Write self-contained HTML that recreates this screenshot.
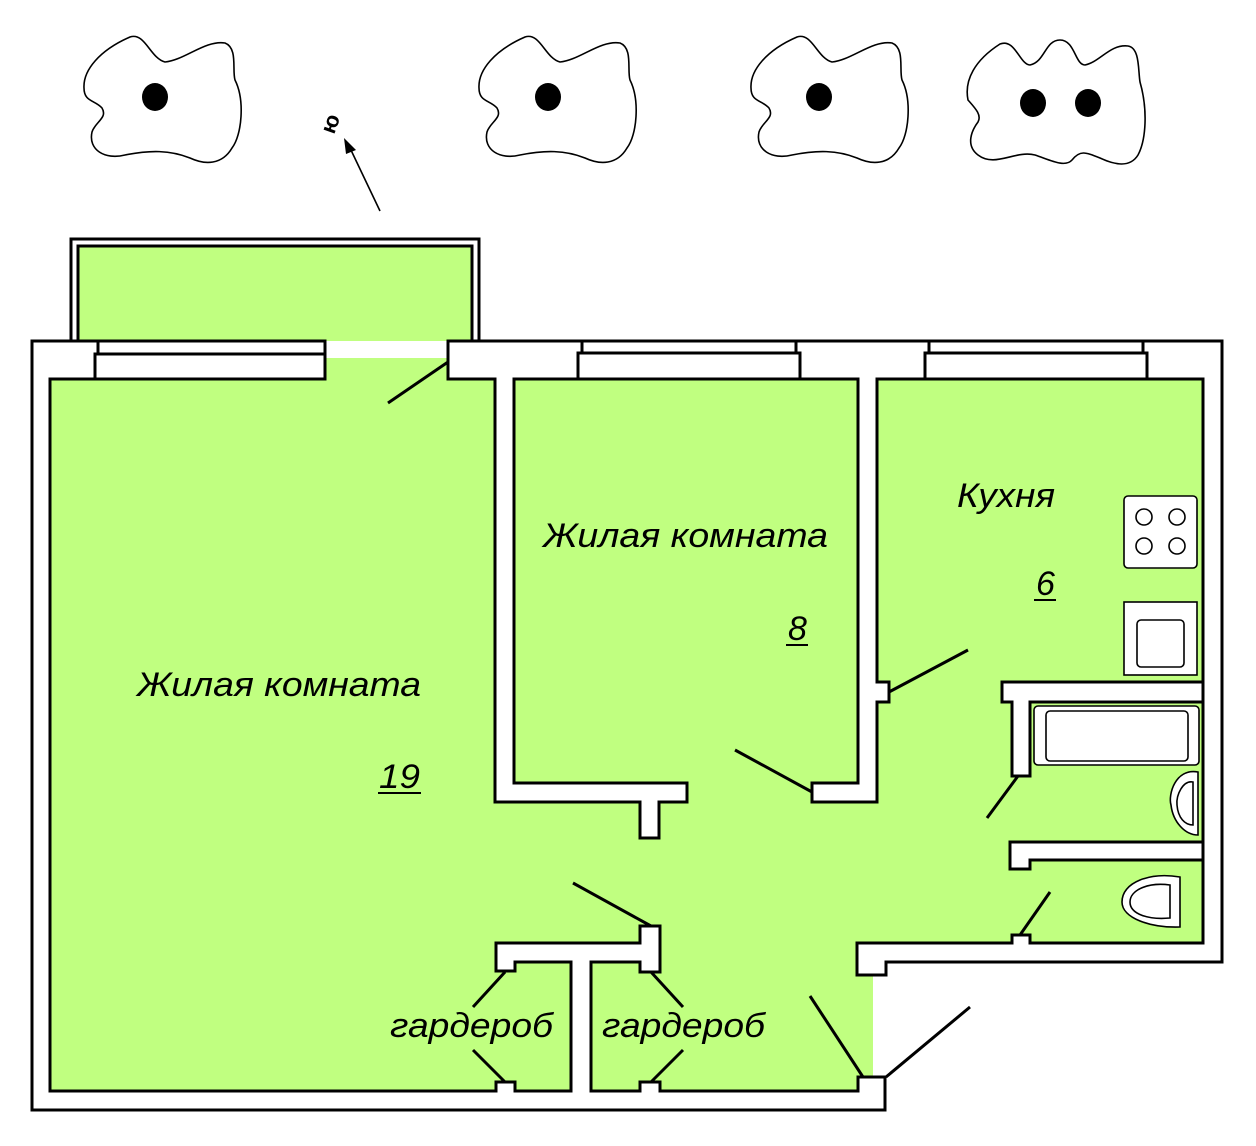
<!DOCTYPE html>
<html><head><meta charset="utf-8"><style>
html,body{margin:0;padding:0;background:#fff;}
svg{display:block;}
text{font-family:"Liberation Sans",sans-serif;font-style:italic;fill:#000;}
</style></head><body>
<svg width="1256" height="1146" viewBox="0 0 1256 1146" xmlns="http://www.w3.org/2000/svg">
<defs>
<path id="blob" d="M130,37 C145,32 150,58 165,62 C185,60 205,40 225,43 C238,48 232,70 235,80 C245,100 242,135 232,148 C222,165 205,165 190,158 C170,150 150,150 125,155 C105,160 88,150 92,132 C95,122 108,118 102,108 C95,100 84,102 84,88 C83,70 100,50 130,37 Z" fill="none" stroke="#000" stroke-width="1.6"/>
</defs>
<use href="#blob"/>
<use href="#blob" transform="translate(395,0)"/>
<use href="#blob" transform="translate(667,0)"/>
<path d="M1000,44 C1015,38 1020,65 1030,65 C1045,62 1045,40 1060,40 C1075,40 1075,65 1085,65 C1100,62 1110,44 1128,46 C1140,48 1138,70 1140,82 C1148,110 1146,140 1138,155 C1130,168 1115,165 1100,158 C1085,152 1080,150 1072,160 C1065,168 1050,160 1035,155 C1015,150 995,168 978,155 C965,145 972,130 978,122 C982,115 975,108 968,100 C964,80 975,60 1000,44 Z" fill="none" stroke="#000" stroke-width="1.6"/>
<ellipse cx="155" cy="97" rx="13" ry="14"/>
<ellipse cx="548" cy="97" rx="13" ry="14"/>
<ellipse cx="819" cy="97" rx="13" ry="14"/>
<ellipse cx="1033" cy="103" rx="13" ry="14"/>
<ellipse cx="1088" cy="103" rx="13" ry="14"/>
<line x1="380" y1="211" x2="350" y2="148" stroke="#000" stroke-width="1.6"/>
<polygon points="344,138 356,150 346,154" fill="#000"/>
<text x="0" y="0" font-size="22" font-weight="bold" transform="translate(334,135) rotate(-70)" style="font-style:normal">ю</text>

<rect x="71" y="239" width="408" height="104" fill="#fff" stroke="#000" stroke-width="3"/>
<rect x="78" y="246" width="394" height="97" fill="#c0ff80" stroke="#000" stroke-width="3"/>

<polygon points="32,341 1222,341 1222,962 885,962 885,1110 32,1110" fill="#fff"/>
<polygon points="50,379 1203,379 1203,945 873,945 873,1091 50,1091" fill="#c0ff80"/>
<rect x="325" y="343" width="123" height="15" fill="#fff"/>
<rect x="325" y="358" width="123" height="22" fill="#c0ff80"/>

<g fill="#000">
<rect x="30.5" y="339.5" width="21" height="772"/>
<rect x="30.5" y="339.5" width="296" height="41"/>
<rect x="446.5" y="339.5" width="777" height="41"/>
<rect x="1201.5" y="339.5" width="22" height="624"/>
<rect x="855.5" y="941.5" width="368" height="22"/>
<rect x="855.5" y="941.5" width="32" height="35"/>
<rect x="1010.5" y="933.5" width="21" height="11"/>
<rect x="30.5" y="1089.5" width="856" height="22"/>
<rect x="856.5" y="1075.5" width="30" height="36"/>
<rect x="493.5" y="377.5" width="22" height="426"/>
<rect x="493.5" y="781.5" width="195" height="22"/>
<rect x="638.5" y="781.5" width="22" height="58"/>
<rect x="856.5" y="377.5" width="22" height="426"/>
<rect x="810.5" y="781.5" width="68" height="22"/>
<rect x="875.5" y="680.5" width="15" height="23"/>
<rect x="1000.5" y="680.5" width="204" height="23"/>
<rect x="1010.5" y="680.5" width="21" height="97"/>
<rect x="1008.5" y="840.5" width="196" height="21"/>
<rect x="1008.5" y="840.5" width="23" height="30"/>
<rect x="494.5" y="941.5" width="167" height="22"/>
<rect x="494.5" y="941.5" width="22" height="31"/>
<rect x="638.5" y="924.5" width="23" height="49"/>
<rect x="569.5" y="960.5" width="23" height="132"/>
<rect x="494.5" y="1080.5" width="22" height="12"/>
<rect x="638.5" y="1080.5" width="23" height="12"/>
</g>
<g fill="#fff">
<rect x="33.5" y="342.5" width="15" height="766"/>
<rect x="33.5" y="342.5" width="290" height="35"/>
<rect x="449.5" y="342.5" width="771" height="35"/>
<rect x="1204.5" y="342.5" width="16" height="618"/>
<rect x="858.5" y="944.5" width="362" height="16"/>
<rect x="858.5" y="944.5" width="26" height="29"/>
<rect x="1013.5" y="936.5" width="15" height="12"/>
<rect x="33.5" y="1092.5" width="850" height="16"/>
<rect x="859.5" y="1078.5" width="24" height="30"/>
<rect x="496.5" y="376" width="16" height="424.5"/>
<rect x="496.5" y="784.5" width="189" height="16"/>
<rect x="641.5" y="784.5" width="16" height="52"/>
<rect x="859.5" y="376" width="16" height="424.5"/>
<rect x="813.5" y="784.5" width="62" height="16"/>
<rect x="874" y="683.5" width="13.5" height="17"/>
<rect x="1003.5" y="683.5" width="198" height="17"/>
<rect x="1013.5" y="683.5" width="15" height="91"/>
<rect x="1011.5" y="843.5" width="190" height="15"/>
<rect x="1011.5" y="843.5" width="17" height="24"/>
<rect x="497.5" y="944.5" width="161" height="16"/>
<rect x="497.5" y="944.5" width="16" height="25"/>
<rect x="641.5" y="927.5" width="17" height="43"/>
<rect x="572.5" y="959" width="17" height="136"/>
<rect x="497.5" y="1083.5" width="16" height="12"/>
<rect x="641.5" y="1083.5" width="17" height="12"/>
<rect x="1204.5" y="940" width="16" height="10"/>
</g>
<g fill="#fff" stroke="#000" stroke-width="3">
<rect x="98" y="341" width="227" height="13"/>
<rect x="95" y="354" width="230" height="25"/>
<rect x="582" y="341" width="214" height="12"/>
<rect x="578" y="353" width="222" height="26"/>
<rect x="929" y="341" width="214" height="12"/>
<rect x="925" y="353" width="222" height="26"/>
</g>
<g stroke="#000" stroke-width="3" fill="none">
<line x1="448" y1="362" x2="388" y2="403"/>
<line x1="812" y1="792" x2="735" y2="750"/>
<line x1="889" y1="692" x2="968" y2="650"/>
<line x1="1018" y1="776" x2="987" y2="818"/>
<line x1="1020" y1="935" x2="1050" y2="892"/>
<line x1="651" y1="926" x2="573" y2="883"/>
<line x1="505" y1="972" x2="473" y2="1007"/>
<line x1="473" y1="1050" x2="505" y2="1082"/>
<line x1="651" y1="972" x2="683" y2="1007"/>
<line x1="683" y1="1050" x2="651" y2="1082"/>
<line x1="863" y1="1077" x2="810" y2="996"/>
<line x1="886" y1="1077" x2="970" y2="1007"/>
</g>
<g fill="#fff" stroke="#000" stroke-width="1.6">
<rect x="1124" y="496" width="73" height="72" rx="4"/>
<circle cx="1144" cy="517" r="8"/><circle cx="1177" cy="517" r="8"/>
<circle cx="1144" cy="546" r="8"/><circle cx="1177" cy="546" r="8"/>
<rect x="1124" y="602" width="73" height="73"/>
<rect x="1137" y="620" width="47" height="47" rx="4"/>
<rect x="1034" y="706" width="165" height="59" rx="4"/>
<rect x="1046" y="711" width="142" height="50" rx="4"/>
<path d="M1198,772 C1175,768 1168,795 1171,805 C1173,822 1185,835 1198,835 Z"/>
<path d="M1193,782 C1183,780 1176,795 1177,805 C1178,818 1185,825 1193,825 Z"/>
<path d="M1180,877 C1150,872 1122,882 1122,902 C1122,918 1150,928 1180,927 Z"/>
<path d="M1170,885 C1148,882 1130,890 1130,902 C1130,914 1148,920 1170,918 Z"/>
</g>
<text x="137" y="696" font-size="34" textLength="284" lengthAdjust="spacingAndGlyphs">Жилая комната</text>
<text x="379" y="788" font-size="34" textLength="41" lengthAdjust="spacingAndGlyphs">19</text>
<line x1="378" y1="793" x2="421" y2="793" stroke="#000" stroke-width="2"/>
<text x="543" y="547" font-size="34" textLength="285" lengthAdjust="spacingAndGlyphs">Жилая комната</text>
<text x="788" y="640" font-size="34">8</text>
<line x1="786" y1="645" x2="808" y2="645" stroke="#000" stroke-width="2"/>
<text x="957" y="507" font-size="34" textLength="98" lengthAdjust="spacingAndGlyphs">Кухня</text>
<text x="1036" y="595" font-size="34">6</text>
<line x1="1034" y1="600" x2="1056" y2="600" stroke="#000" stroke-width="2"/>
<text x="390" y="1037" font-size="34" textLength="163" lengthAdjust="spacingAndGlyphs">гардероб</text>
<text x="602" y="1037" font-size="34" textLength="163" lengthAdjust="spacingAndGlyphs">гардероб</text>
</svg>
</body></html>
